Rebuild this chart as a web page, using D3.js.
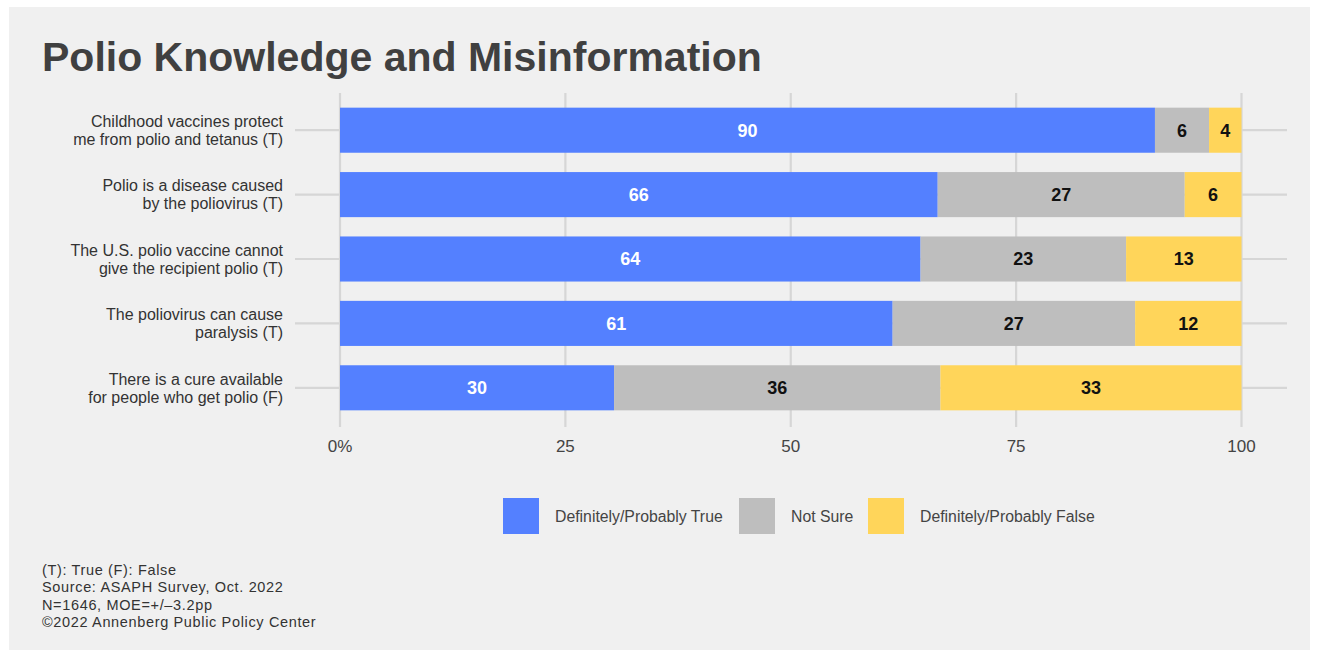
<!DOCTYPE html>
<html><head><meta charset="utf-8">
<script src="https://cdn.jsdelivr.net/npm/d3@7"></script>
<style>
body{margin:0;background:#fff;}
svg{display:block;font-family:"Liberation Sans",Arial,Helvetica,sans-serif;}
</style></head>
<body>
<svg id="chart" width="1319" height="658"></svg>
<script>
const categories = [
  ["Childhood vaccines protect","me from polio and tetanus (T)"],
  ["Polio is a disease caused","by the poliovirus (T)"],
  ["The U.S. polio vaccine cannot","give the recipient polio (T)"],
  ["The poliovirus can cause","paralysis (T)"],
  ["There is a cure available","for people who get polio (F)"]
];
const seriesNames = ["Definitely/Probably True","Not Sure","Definitely/Probably False"];
const trueVals    = [90.4, 66.3, 64.4, 61.3, 30.4];
const notSureVals = [6.0, 27.4, 22.8, 26.9, 36.2];
const falseVals   = [3.6, 6.3, 12.8, 11.8, 33.4];
const xTicks = [0, 25, 50, 75, 100];
const xTickLabels = ["0%", "25", "50", "75", "100"];
const colors = ["#5480ff", "#bebebe", "#ffd55a"];
const footnotes = ["(T): True (F): False","Source: ASAPH Survey, Oct. 2022","N=1646, MOE=+/\u20133.2pp","\u00a92022 Annenberg Public Policy Center"];

const svg = d3.select("#chart");
svg.append("rect").attr("x",9).attr("y",7).attr("width",1301).attr("height",643).attr("fill","#f0f0f0");

svg.append("text").attr("x",42).attr("y",71).attr("font-size",41).attr("font-weight","bold")
  .attr("fill","#404040").text("Polio Knowledge and Misinformation");

const x = d3.scaleLinear().domain([0,100]).range([340,1241.5]);
const y = d3.scaleBand().domain(d3.range(categories.length)).range([98,420]).paddingInner(0.3).paddingOuter(0.15);

const rows = categories.map((c,i)=>({i, vals:[trueVals[i], notSureVals[i], falseVals[i]]}));
const stack = d3.stack().keys([0,1,2]).value((d,k)=>d.vals[k]);
const stacked = stack(rows);

const grid = svg.append("g");
grid.selectAll("line.v").data(xTicks).join("line")
  .attr("x1",d=>x(d)).attr("x2",d=>x(d)).attr("y1",93).attr("y2",427)
  .attr("stroke","#d6d6d6").attr("stroke-width",2.2);
grid.selectAll("line.h").data(d3.range(categories.length)).join("line")
  .attr("x1",295).attr("x2",1287).attr("y1",d=>y(d)+y.bandwidth()/2).attr("y2",d=>y(d)+y.bandwidth()/2)
  .attr("stroke","#d6d6d6").attr("stroke-width",2.2);

const layers = svg.append("g").selectAll("g").data(stacked).join("g").attr("fill",(d,k)=>colors[k]);
layers.selectAll("rect").data(d=>d).join("rect")
  .attr("x",d=>x(d[0])).attr("width",d=>x(d[1])-x(d[0]))
  .attr("y",d=>y(d.data.i)).attr("height",y.bandwidth());

const labels = svg.append("g").attr("font-size",18).attr("font-weight","bold").attr("text-anchor","middle");
stacked.forEach((layer,k)=>{
  labels.selectAll(null).data(layer).join("text")
    .attr("x",d=>(x(d[0])+x(d[1]))/2).attr("y",d=>y(d.data.i)+y.bandwidth()/2)
    .attr("dy","0.36em").attr("fill",k===0?"#ffffff":"#111111")
    .text(d=>Math.round(d[1]-d[0]));
});

const yl = svg.append("g").attr("font-size",16).attr("fill","#333").attr("text-anchor","end");
categories.forEach((c,i)=>{
  const cy = y(i)+y.bandwidth()/2;
  const t = yl.append("text").attr("x",283).attr("y",cy-9).attr("dy","0.36em");
  t.append("tspan").attr("x",283).text(c[0]);
  t.append("tspan").attr("x",283).attr("dy","18").text(c[1]);
});

svg.append("g").attr("font-size",17).attr("fill","#444").attr("text-anchor","middle")
  .selectAll("text").data(xTicks).join("text")
  .attr("x",d=>x(d)).attr("y",452).text((d,i)=>xTickLabels[i]);

const legX = [503, 739, 868];
const leg = svg.append("g");
seriesNames.forEach((n,k)=>{
  leg.append("rect").attr("x",legX[k]).attr("y",498).attr("width",36).attr("height",36).attr("fill",colors[k]);
  leg.append("text").attr("x",legX[k]+52).attr("y",516).attr("dy","0.36em").attr("font-size",15.8).attr("fill","#444").text(n);
});

svg.append("g").attr("font-size",14.5).attr("letter-spacing","0.65px").attr("fill","#333").selectAll("text").data(footnotes).join("text")
  .attr("x",42).attr("y",(d,i)=>575+i*17.3).text(d=>d);
</script>
</body></html>
